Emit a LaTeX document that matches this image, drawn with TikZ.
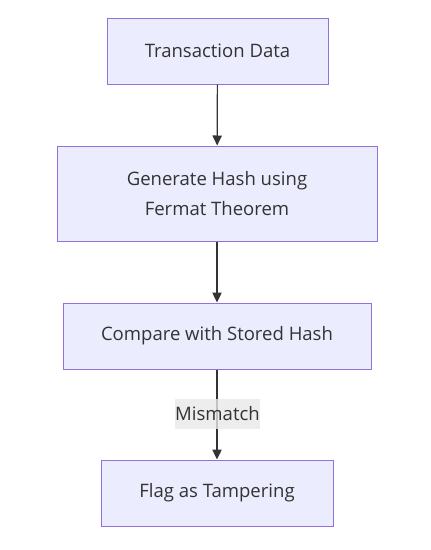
\documentclass[tikz,border=0pt]{standalone}
\usepackage{fontspec}
\setmainfont{Open Sans}
\usetikzlibrary{arrows.meta}
\definecolor{nodefill}{HTML}{ECECFF}
\definecolor{nodeborder}{HTML}{9370DB}
\definecolor{edgecol}{HTML}{333333}
\definecolor{lblbg}{HTML}{E8E8E8}
\tikzset{
  box/.style={draw=nodeborder, fill=nodefill, line width=0.75pt, inner sep=0pt,
    text=edgecol, font=\fontsize{13.9}{22}\selectfont, align=center},
  edge/.style={draw=edgecol, line width=0.9pt, -{Triangle[length=7.5pt,width=7pt]}},
  lbl/.style={fill=lblbg, fill opacity=0.8, text opacity=1, text=edgecol,
    font=\fontsize{13.9}{18}\selectfont, inner sep=0pt, minimum width=62.25pt, minimum height=22.5pt}
}
\begin{document}
\begin{tikzpicture}[x=0.75pt,y=-0.75pt]
\useasboundingbox (0,0) rectangle (430,550);
\node[box, minimum width=165.75pt, minimum height=49.5pt] (a) at (217.5,51) {Transaction Data};
\node[box, minimum width=240pt, minimum height=71.25pt] (b) at (217,193.5) {Generate Hash using\\Fermat Theorem};
\node[box, minimum width=231pt, minimum height=49.5pt] (c) at (217,336) {Compare with Stored Hash};
\node[box, minimum width=174pt, minimum height=49.5pt] (d) at (217,493) {Flag as Tampering};
\draw[edge] (a) -- (b);
\draw[edge] (b) -- (c);
\draw[edge] (c) -- (d);
\node[lbl] (m) at (217.5,414) {Mismatch};
\end{tikzpicture}
\end{document}
